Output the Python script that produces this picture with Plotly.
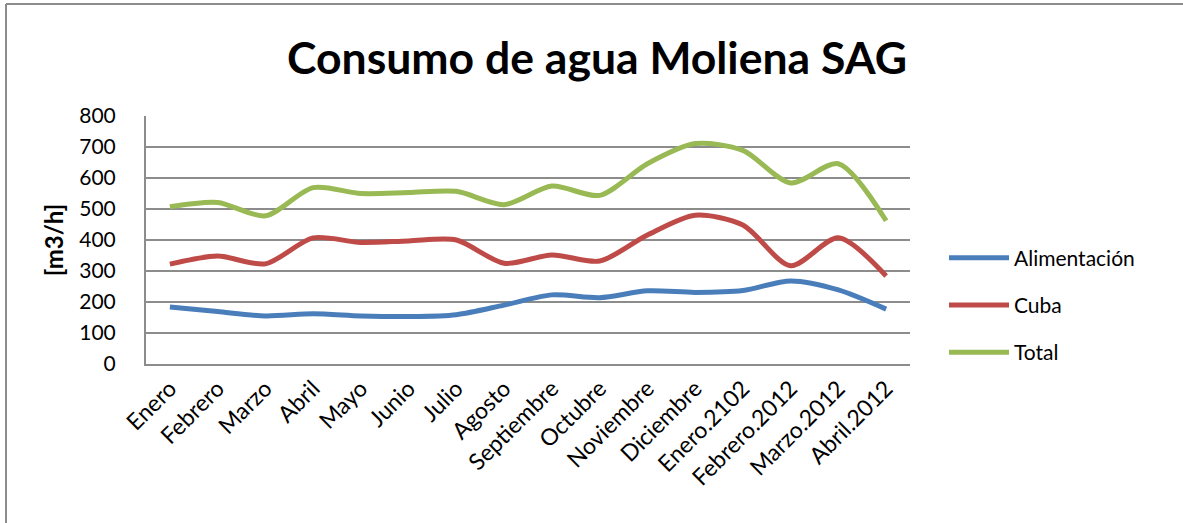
import plotly.graph_objects as go

categories = ["Enero", "Febrero", "Marzo", "Abril", "Mayo", "Junio", "Julio", "Agosto",
              "Septiembre", "Octubre", "Noviembre", "Diciembre", "Enero.2102",
              "Febrero.2012", "Marzo.2012", "Abril.2012"]
alimentacion = [184, 169, 155, 162, 155, 153, 159, 190, 223, 214, 236, 231, 237, 268, 239, 177]
cuba = [322, 348, 323, 407, 392, 397, 400, 325, 352, 332, 416, 480, 448, 317, 407, 284]
total = [507, 521, 478, 569, 550, 553, 557, 514, 574, 544, 646, 711, 689, 584, 646, 462]

series = [("Alimentación", alimentacion, "#4a7ebb"),
          ("Cuba", cuba, "#be4b48"),
          ("Total", total, "#98b954")]

FONT = "Lato, Open Sans, sans-serif"
W, H = 1183, 523
L, R, T, B = 146, 910, 116, 364

fig = go.Figure()
for i, (name, vals, col) in enumerate(series):
    fig.add_trace(go.Scatter(
        x=categories, y=vals, name=name, mode="lines",
        line=dict(color=col, width=5, shape="spline", smoothing=0.8),
        legendgroup=f"g{i}",
    ))

def px(xp):
    return (xp - L) / (R - L)

def py(yp):
    return (B - yp) / (B - T)

fig.update_layout(
    width=W, height=H,
    margin=dict(l=L, r=W - R, t=T, b=H - B, pad=0),
    paper_bgcolor="white", plot_bgcolor="white",
    font=dict(family=FONT, color="black"),
    title=dict(text="<b>Consumo de agua Moliena SAG</b>", x=597 / W, xanchor="center",
               y=1 - 58 / H, yanchor="middle", font=dict(size=44.5, family=FONT, color="black")),
    showlegend=True,
    legend=dict(x=px(944), xanchor="left", y=py(305), yanchor="middle",
                font=dict(size=21, family=FONT), tracegroupgap=17,
                bgcolor="rgba(0,0,0,0)", itemwidth=60),
    xaxis=dict(type="category", range=[-0.5, 15.5], tickangle=-45,
               tickfont=dict(size=23, family=FONT), showgrid=False,
               showline=True, linecolor="#8c8c8c", linewidth=2, ticks=""),
    yaxis=dict(range=[0, 800], dtick=100, tickfont=dict(size=21, family=FONT),
               showgrid=True, gridcolor="#8c8c8c", gridwidth=2,
               showline=True, linecolor="#8c8c8c", linewidth=2, zeroline=False,
               ticks="", ticklabelstandoff=24,
               title=dict(text="<b>[m3/h]</b>", font=dict(size=24, family=FONT), standoff=9)),
    shapes=[
        dict(type="line", xref="paper", yref="paper", x0=px(6), x1=px(6), y0=py(4), y1=py(530),
             line=dict(color="#8c8c8c", width=2)),
        dict(type="line", xref="paper", yref="paper", x0=px(6), x1=px(1190), y0=py(4), y1=py(4),
             line=dict(color="#8c8c8c", width=2)),
    ],
)

fig.write_html("out.html", config={"displayModeBar": False},
               post_script="document.body.style.margin='0';document.body.style.overflow='hidden';")
